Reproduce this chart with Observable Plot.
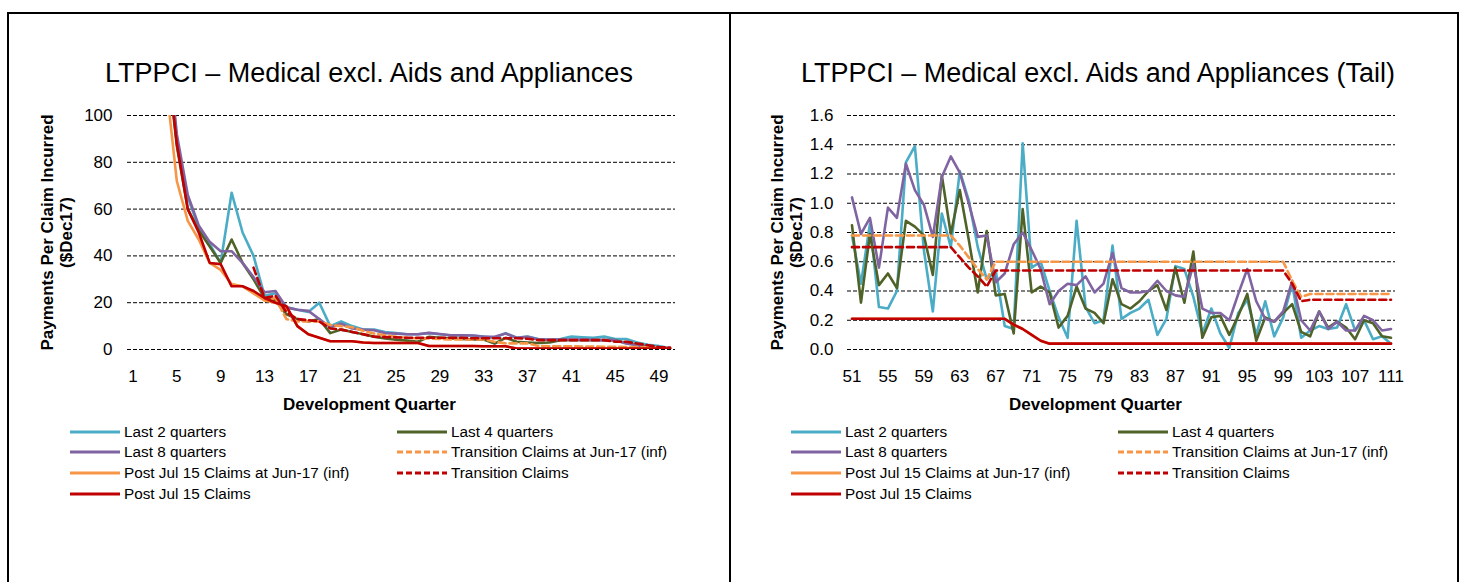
<!DOCTYPE html>
<html><head><meta charset="utf-8">
<script src="https://cdn.jsdelivr.net/npm/d3@7"></script>
<script src="https://cdn.jsdelivr.net/npm/@observablehq/plot@0.6"></script>
<style>
body{margin:0;background:#fff;font-family:"Liberation Sans",Arial,sans-serif;}
#root{position:relative;width:1459px;height:582px;overflow:hidden;background:#fff}
.box{position:absolute;border:2px solid #000;box-sizing:border-box}
.title{position:absolute;font-size:27px;white-space:nowrap;color:#000;transform:translate(-50%,-50%)}
.chart{position:absolute}
.item{position:absolute;display:flex;align-items:center;white-space:nowrap;font-size:15.3px;color:#000;transform:translateY(-50%)}
.item svg{margin-right:4px}
</style></head>
<body><div id="root"></div>
<script>
// ---------- data ----------
const quartersMain = [1,2,3,4,5,6,7,8,9,10,11,12,13,14,15,16,17,18,19,20,21,22,23,24,25,26,27,28,29,30,31,32,33,34,35,36,37,38,39,40,41,42,43,44,45,46,47,48,49,50];
const quartersTail = [51,52,53,54,55,56,57,58,59,60,61,62,63,64,65,66,67,68,69,70,71,72,73,74,75,76,77,78,79,80,81,82,83,84,85,86,87,88,89,90,91,92,93,94,95,96,97,98,99,100,101,102,103,104,105,106,107,108,109,110,111];
const tickLabelsMain = [1,5,9,13,17,21,25,29,33,37,41,45,49];
const tickLabelsTail = [51,55,59,63,67,71,75,79,83,87,91,95,99,103,107,111];
const yTicksMain = [0,20,40,60,80,100];
const yTicksTail = [0,0.2,0.4,0.6,0.8,1.0,1.2,1.4,1.6];

const seriesNames = ["Last 2 quarters","Last 4 quarters","Last 8 quarters","Transition Claims at Jun-17 (inf)","Post Jul 15 Claims at Jun-17 (inf)","Transition Claims","Post Jul 15 Claims"];

const mainLast2 = [null,null,null,135,88,65,52,45,37,67,50,40,23,24,18,17,16,20,10,12,10,8.5,8.5,7.5,7,6.5,6.5,7,6.5,6,6,6,5.5,5,7,5,5.5,4.5,4,4.5,5.5,5.2,5,5.5,4.5,4.5,3,2,1.5,0.5];
const mainLast4 = [null,null,null,130,87,60,51,44,37,47,37,30,22,21,15,13,12,13,7,8.5,7.5,6.5,5.5,4.7,4.2,3.8,3.3,5.4,5,4.7,4.5,4.3,4.3,2.5,5,3.3,3,2.8,3,4,4,4,4,4,4,2.8,2,1.2,0.9,0.4];
const mainLast8 = [null,null,null,140,92,66,53,46,42,42,37,31,24.5,25,18,17,16.5,13,9.5,11,9,8.5,8.2,7,6.8,6.5,6.5,7.1,6.6,6.1,6.1,6,5.4,5.4,6.8,5,5.4,4.3,4.3,4.3,4.3,4.2,4.1,4,4,2.6,1.8,1.1,0.8,0.4];
const mainTransInf = [null,null,null,null,null,null,null,null,null,null,null,25,21,22,13,12,12,12,10.5,10,9.5,8,6.8,6.1,5.4,5,4.7,4.7,4.5,4.3,4.3,4.3,4.3,3.3,2.6,2.6,2.6,1.5,1.4,1.4,1.4,1.3,1.3,1.2,1.2,1.1,1,0.9,0.7,0.5];
const mainPostInf = [null,null,null,115,72,55,47,37,34,28,27,24,21,20,18,10,6.5,5,3.5,3.5,3.5,3,2.8,2.8,2.8,2.8,2.8,1.5,1.5,1.5,1.5,1.5,1.4,1.4,1.4,0.4,0.4,0.4,0.4,0.4,0.4,0.4,0.4,0.4,0.4,0.4,0.4,0.4,0.4,0.4];
const mainTrans = [null,null,null,null,null,null,null,null,null,null,null,35,22,23,16,13,12.5,12,9,8.5,7.5,6.5,5.5,5.3,5.2,5,5,5,5,5,5,4.8,4.8,4.8,4.8,4.8,4.6,4,4,4,4,4,4,4,3.3,3.3,2.6,1.8,1.1,0.8];
const mainPost = [null,null,null,130,88,60,50,37,36.5,27,27,25,22,20,18.5,10,6.5,5,3.5,3.5,3.5,3,2.8,2.8,2.8,2.8,2.8,1.5,1.5,1.5,1.5,1.5,1.4,1.4,1.4,0.4,0.4,0.4,0.4,0.4,0.4,0.4,0.4,0.4,0.4,0.4,0.4,0.4,0.4,0.4];

const tailLast2 = [0.78,0.45,0.86,0.29,0.28,0.40,1.28,1.39,0.68,0.26,0.93,0.70,1.22,1.02,0.70,0.48,0.54,0.16,0.14,1.41,0.56,0.60,0.40,0.22,0.08,0.88,0.29,0.18,0.20,0.71,0.21,0.25,0.28,0.34,0.10,0.21,0.57,0.55,0.36,0.11,0.28,0.11,0.01,0.25,0.34,0.10,0.33,0.09,0.22,0.45,0.08,0.13,0.16,0.14,0.15,0.31,0.13,0.20,0.07,0.09,0.04];
const tailLast4 = [0.85,0.32,0.79,0.44,0.52,0.42,0.88,0.84,0.78,0.51,1.19,0.79,1.09,0.75,0.39,0.81,0.37,0.38,0.11,0.96,0.39,0.43,0.39,0.15,0.23,0.43,0.28,0.25,0.18,0.48,0.31,0.28,0.33,0.40,0.44,0.27,0.56,0.32,0.67,0.08,0.22,0.23,0.10,0.23,0.38,0.06,0.22,0.19,0.25,0.31,0.12,0.09,0.26,0.15,0.19,0.15,0.07,0.20,0.18,0.09,0.08];
const tailLast8 = [1.04,0.79,0.90,0.56,0.97,0.90,1.27,1.09,0.99,0.77,1.18,1.32,1.21,1.00,0.77,0.78,0.46,0.52,0.72,0.80,0.68,0.55,0.31,0.40,0.45,0.44,0.50,0.39,0.45,0.66,0.42,0.39,0.39,0.40,0.47,0.40,0.37,0.36,0.58,0.28,0.25,0.25,0.20,0.38,0.55,0.33,0.21,0.19,0.26,0.47,0.20,0.13,0.26,0.14,0.19,0.13,0.13,0.23,0.20,0.13,0.14];
const tailTransInf = [0.78,0.78,0.78,0.78,0.78,0.78,0.78,0.78,0.78,0.78,0.78,0.78,0.71,0.63,0.55,0.48,0.60,0.60,0.60,0.60,0.60,0.60,0.60,0.60,0.60,0.60,0.60,0.60,0.60,0.60,0.60,0.60,0.60,0.60,0.60,0.60,0.60,0.60,0.60,0.60,0.60,0.60,0.60,0.60,0.60,0.60,0.60,0.60,0.60,0.47,0.36,0.38,0.38,0.38,0.38,0.38,0.38,0.38,0.38,0.38,0.38];
const tailPostInf = [0.21,0.21,0.21,0.21,0.21,0.21,0.21,0.21,0.21,0.21,0.21,0.21,0.21,0.21,0.21,0.21,0.21,0.21,0.17,0.14,0.10,0.06,0.04,0.04,0.04,0.04,0.04,0.04,0.04,0.04,0.04,0.04,0.04,0.04,0.04,0.04,0.04,0.04,0.04,0.04,0.04,0.04,0.04,0.04,0.04,0.04,0.04,0.04,0.04,0.04,0.04,0.04,0.04,0.04,0.04,0.04,0.04,0.04,0.04,0.04,0.04];
const tailTrans = [0.70,0.70,0.70,0.70,0.70,0.70,0.70,0.70,0.70,0.70,0.70,0.70,0.63,0.56,0.50,0.43,0.54,0.54,0.54,0.54,0.54,0.54,0.54,0.54,0.54,0.54,0.54,0.54,0.54,0.54,0.54,0.54,0.54,0.54,0.54,0.54,0.54,0.54,0.54,0.54,0.54,0.54,0.54,0.54,0.54,0.54,0.54,0.54,0.54,0.45,0.33,0.34,0.34,0.34,0.34,0.34,0.34,0.34,0.34,0.34,0.34];
const tailPost = [0.21,0.21,0.21,0.21,0.21,0.21,0.21,0.21,0.21,0.21,0.21,0.21,0.21,0.21,0.21,0.21,0.21,0.21,0.17,0.14,0.10,0.06,0.04,0.04,0.04,0.04,0.04,0.04,0.04,0.04,0.04,0.04,0.04,0.04,0.04,0.04,0.04,0.04,0.04,0.04,0.04,0.04,0.04,0.04,0.04,0.04,0.04,0.04,0.04,0.04,0.04,0.04,0.04,0.04,0.04,0.04,0.04,0.04,0.04,0.04,0.04];

// ---------- styles ----------
const seriesColors = ["#4BACC6","#4F6228","#8064A2","#F79646","#F79646","#C00000","#C00000"];
const seriesDash = [null,null,null,"7,4",null,"7,4",null];
const FONT = '"Liberation Sans", Arial, sans-serif';

const root = document.getElementById("root");
function el(tag, cls, style, html) {
  const e = document.createElement(tag);
  if (cls) e.className = cls;
  if (style) Object.assign(e.style, style);
  if (html != null) e.textContent = html;
  root.appendChild(e);
  return e;
}

function makeChart(cfg) {
  const marks = [
    Plot.ruleY(cfg.yTicks, {stroke: "#000", strokeWidth: 1, strokeDasharray: "4,2"})
  ];
  cfg.series.forEach((vals, k) => {
    const data = vals.map((v, i) => ({q: cfg.quarters[i], v}));
    marks.push(Plot.lineY(data, {
      x: "q", y: "v", stroke: seriesColors[k], strokeWidth: 2.6,
      strokeDasharray: seriesDash[k] || undefined, clip: true
    }));
  });
  marks.push(Plot.text(["Payments Per Claim Incurred\n($Dec17)"], {
    frameAnchor: "left", textAnchor: "middle", lineAnchor: "middle", rotate: -90, dx: cfg.yTitleDx,
    fontWeight: "bold", fontSize: 17, lineHeight: 1.08, fill: "#000"
  }));
  marks.push(Plot.text(["Development Quarter"], {
    frameAnchor: "bottom", textAnchor: "middle", dy: 60, dx: cfg.xTitleDx, fontWeight: "bold", fontSize: 17, fill: "#000"
  }));
  return Plot.plot({
    width: cfg.width, height: 330,
    marginLeft: cfg.marginLeft, marginRight: cfg.marginRight, marginTop: 25, marginBottom: 71,
    style: {fontFamily: FONT, fontSize: "17px", color: "#000", background: "transparent", overflow: "visible"},
    x: {type: "point", domain: cfg.quarters, padding: 0.5, ticks: cfg.xTicks, tickSize: 0, tickPadding: 20, label: null},
    y: {domain: cfg.yDomain, ticks: cfg.yTicks, tickSize: 0, tickPadding: cfg.yPad, tickFormat: cfg.yFmt, label: null},
    marks
  });
}

// ---------- panels ----------
el("div", "box", {left: "7px", top: "12px", width: "724px", height: "620px"});
el("div", "box", {left: "729px", top: "12px", width: "730px", height: "620px"});

el("div", "title", {left: "369px", top: "73px"}, "LTPPCI \u2013 Medical excl. Aids and Appliances");
el("div", "title", {left: "1098px", top: "73px"}, "LTPPCI \u2013 Medical excl. Aids and Appliances (Tail)");

const left = makeChart({
  width: 730, marginLeft: 127, marginRight: 55, quarters: quartersMain, xTicks: tickLabelsMain,
  yDomain: [0, 100], yTicks: yTicksMain, yFmt: d => d, yPad: 15, yTitleDx: -71, xTitleDx: -32,
  series: [mainLast2, mainLast4, mainLast8, mainTransInf, mainPostInf, mainTrans, mainPost]
});
const lw = el("div", "chart", {left: "0px", top: "90px"});
lw.appendChild(left);

const right = makeChart({
  width: 729, marginLeft: 117, marginRight: 64, quarters: quartersTail, xTicks: tickLabelsTail,
  yDomain: [0, 1.6], yTicks: yTicksTail, yFmt: d3.format(".1f"), yPad: 14, yTitleDx: -61, xTitleDx: -26,
  series: [tailLast2, tailLast4, tailLast8, tailTransInf, tailPostInf, tailTrans, tailPost]
});
const rw = el("div", "chart", {left: "730px", top: "90px"});
rw.appendChild(right);

// ---------- legends ----------
const legendSlots = [[0,0],[1,0],[0,1],[1,1],[0,2],[1,2],[0,3]]; // [col,row]
const legendOrder = [0,1,2,3,4,5,6];
const rowY = [432, 452, 473, 494];
function legend(colX) {
  legendOrder.forEach((k, j) => {
    const [c, r] = legendSlots[j];
    const item = el("div", "item", {left: colX[c] + "px", top: rowY[r] + "px"});
    const ns = "http://www.w3.org/2000/svg";
    const s = document.createElementNS(ns, "svg");
    s.setAttribute("width", 50); s.setAttribute("height", 6);
    const ln = document.createElementNS(ns, "line");
    ln.setAttribute("x1", 0); ln.setAttribute("x2", 50); ln.setAttribute("y1", 3); ln.setAttribute("y2", 3);
    ln.setAttribute("stroke", seriesColors[k]); ln.setAttribute("stroke-width", 3);
    if (seriesDash[k]) ln.setAttribute("stroke-dasharray", "6,3");
    s.appendChild(ln);
    item.appendChild(s);
    const t = document.createElement("span");
    t.textContent = seriesNames[k];
    item.appendChild(t);
  });
}
legend([70, 397]);
legend([791, 1118]);
</script>
</body></html>
